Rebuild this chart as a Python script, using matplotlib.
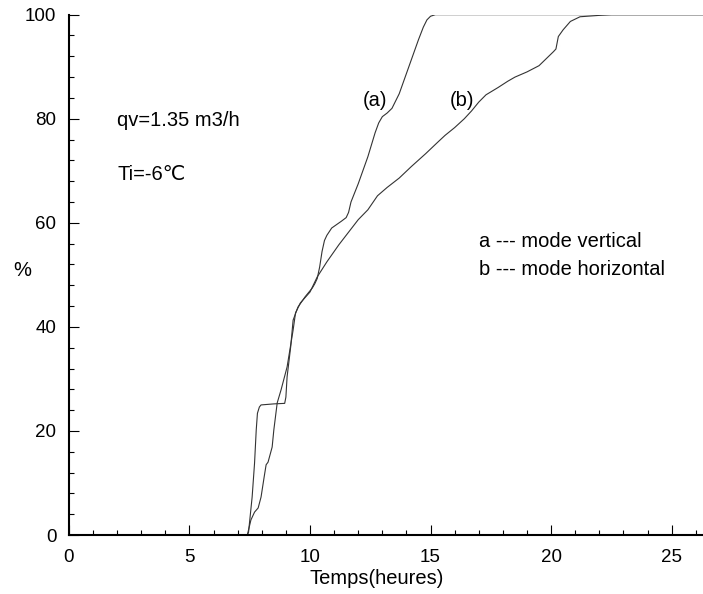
import numpy as np
import matplotlib
matplotlib.use("Agg")
import matplotlib.pyplot as plt
from matplotlib.ticker import MultipleLocator

plt.rcParams['font.family'] = ['Liberation Sans', 'DejaVu Sans']

# courbe (a) : mode vertical
xa = [0, 7.4, 7.45, 7.6, 7.7, 7.77, 7.82, 7.9, 7.97, 8.5, 8.95, 9.0, 9.05, 9.2, 9.3, 9.5,
      9.8, 10.1, 10.2, 10.3, 10.4, 10.5, 10.6, 10.7, 10.9, 11.3, 11.5, 11.6, 11.7, 12.0,
      12.4, 12.7, 12.85, 13.0, 13.2, 13.4, 13.7, 14.1, 14.5, 14.7, 14.85, 15.0, 15.2, 26.3]
ya = [0, 0, 0.5, 7.3, 13.8, 20.2, 23.4, 24.6, 25.0, 25.2, 25.3, 26.5, 30.4, 36.2, 41.3, 43.8,
      45.8, 47.5, 48.3, 49.3, 51.5, 54.5, 56.6, 57.6, 59.0, 60.3, 61.0, 62.0, 64.0, 67.5,
      72.7, 77.3, 79.2, 80.4, 81.1, 82.0, 84.8, 90.0, 95.2, 97.6, 99.0, 99.7, 100, 100]

# courbe (b) : mode horizontal
xb = [0, 7.4, 7.55, 7.7, 7.85, 7.97, 8.1, 8.18, 8.26, 8.43, 8.5, 8.64, 8.8, 9.05,
      9.3, 9.4, 9.6, 10.0, 10.3, 10.7, 11.2, 11.6, 12.0, 12.4, 12.8, 13.2, 13.7,
      14.2, 14.8, 15.3, 15.6, 16.0, 16.4, 16.7, 17.0, 17.3, 17.8, 18.2, 18.5, 19.0,
      19.5, 19.9, 20.1, 20.2, 20.3, 20.5, 20.8, 21.2, 22.1, 22.5, 26.3]
yb = [0, 0, 2.9, 4.4, 5.2, 7.3, 11.2, 13.5, 14.0, 16.9, 20.2, 25.4, 27.9, 32.3,
      39.4, 42.7, 44.6, 46.7, 49.6, 52.5, 55.8, 58.2, 60.6, 62.5, 65.2, 66.8, 68.6,
      70.8, 73.3, 75.5, 76.8, 78.3, 80.0, 81.5, 83.2, 84.6, 86.0, 87.2, 88.0, 89.0,
      90.2, 92.0, 92.9, 93.4, 95.8, 97.1, 98.7, 99.6, 99.9, 100, 100]

fig = plt.figure(figsize=(7.03, 5.94), dpi=100)
ax = fig.add_axes([0.098, 0.0993, 0.902, 0.876])

ax.plot(xa, ya, color='#333333', lw=0.8)
ax.plot(xb, yb, color='#333333', lw=0.8)

ax.set_xlim(0, 26.3)
ax.set_ylim(0, 100)
ax.xaxis.set_major_locator(MultipleLocator(5))
ax.xaxis.set_minor_locator(MultipleLocator(1))
ax.yaxis.set_major_locator(MultipleLocator(20))
ax.yaxis.set_minor_locator(MultipleLocator(4))
ax.tick_params(which='major', direction='in', length=7, width=0.8, labelsize=13.5, pad=10)
ax.tick_params(which='minor', direction='in', length=3.5, width=0.8)
ax.tick_params(axis='y', which='major', pad=9)
ax.spines['top'].set_visible(False)
ax.spines['right'].set_visible(False)
ax.spines['left'].set_linewidth(1.5)
ax.spines['bottom'].set_linewidth(1.5)

ax.set_xlabel('Temps(heures)', fontsize=14.5, labelpad=4)
ax.xaxis.set_label_coords(0.485, -0.065)
ax.set_ylabel('%', fontsize=14.5, rotation=0)
ax.yaxis.set_label_coords(-0.074, 0.49)

ax.text(2.0, 79.6, 'qv=1.35 m3/h', fontsize=14.5, va='center')
ax.text(2.0, 69.2, 'Ti=-6℃', fontsize=14.5, va='center')
ax.text(12.7, 83.5, '(a)', fontsize=14.5, ha='center', va='center')
ax.text(16.3, 83.5, '(b)', fontsize=14.5, ha='center', va='center')
ax.text(17.0, 56.5, 'a --- mode vertical', fontsize=14.5, va='center')
ax.text(17.0, 51.0, 'b --- mode horizontal', fontsize=14.5, va='center')

fig.savefig('out.png', dpi=100)
